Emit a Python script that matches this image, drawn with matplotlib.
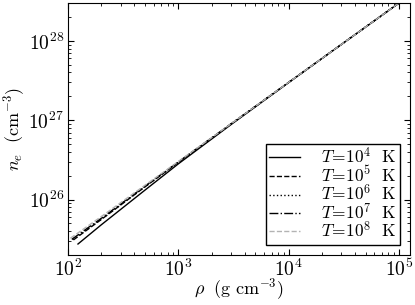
import numpy as np
import matplotlib
matplotlib.use("Agg")
import matplotlib.pyplot as plt
from matplotlib.ticker import FuncFormatter

plt.rcParams["mathtext.fontset"] = "cm"
plt.rcParams["font.family"] = "serif"
plt.rcParams["font.serif"] = ["DejaVu Serif"]
plt.rcParams["font.size"] = 11

# density (g cm^-3) and electron number density (cm^-3)
temps = ["4", "5", "6", "7", "8"]
rho = {
    "4": [123, 200, 500, 1.0e3, 3.0e3, 1.0e4, 3.0e4, 1.0e5],
    "5": [112, 200, 500, 1.0e3, 3.0e3, 1.0e4, 3.0e4, 1.0e5],
    "6": [110, 200, 500, 1.0e3, 3.0e3, 1.0e4, 3.0e4, 1.0e5],
    "7": [108, 200, 500, 1.0e3, 3.0e3, 1.0e4, 3.0e4, 1.0e5],
    "8": [105, 200, 500, 1.0e3, 3.0e3, 1.0e4, 3.0e4, 1.0e5],
}
n_e = {
    "4": [2.75e25, 4.8e25, 1.32e26, 2.82e26, 8.8e26, 2.98e27, 9.0e27, 3.0e28],
    "5": [3.10e25, 5.6e25, 1.45e26, 2.95e26, 8.95e26, 3.0e27, 9.0e27, 3.0e28],
    "6": [3.12e25, 5.65e25, 1.46e26, 2.96e26, 8.95e26, 3.0e27, 9.0e27, 3.0e28],
    "7": [3.15e25, 5.8e25, 1.48e26, 2.98e26, 9.0e26, 3.0e27, 9.0e27, 3.0e28],
    "8": [3.25e25, 6.1e25, 1.52e26, 3.02e26, 9.0e26, 3.0e27, 9.0e27, 3.0e28],
}
styles = {
    "4": dict(color="k", ls="-"),
    "5": dict(color="k", ls="--"),
    "6": dict(color="k", ls=":"),
    "7": dict(color="k", ls="-."),
    "8": dict(color="0.7", ls="--"),
}

fig = plt.figure(figsize=(4.15, 3.05), dpi=100)
ax = fig.add_axes([0.164, 0.164, 0.824, 0.826])

for t in temps:
    ax.loglog(rho[t], n_e[t], lw=1.0, label=r"$T\!=\!10^{%s}\ \ \mathrm{K}$" % t,
              **styles[t])

ax.set_xlim(100, 1.26e5)
ax.set_ylim(2.0e25, 3.0e28)
ax.set_xlabel(r"$\rho\ \ (\mathrm{g\ cm^{-3}})$", fontsize=13, labelpad=-3)
ax.set_ylabel(r"$n_e\ \ (\mathrm{cm^{-3}})$", fontsize=13, labelpad=1)

decade = FuncFormatter(lambda v, p: r"$10^{%d}$" % round(np.log10(v)))
ax.xaxis.set_major_formatter(decade)
ax.yaxis.set_major_formatter(decade)
ax.tick_params(which="both", direction="in", top=True, right=True, labelsize=14)
ax.tick_params(which="major", length=4, pad=3)
ax.tick_params(which="minor", length=2)

leg = ax.legend(loc="lower right", fancybox=False, edgecolor="k", framealpha=1,
                handlelength=1.8, handletextpad=1.2, borderpad=0.2,
                borderaxespad=0.6, labelspacing=-0.1, fontsize=12.5)
leg.get_frame().set_linewidth(1.0)

fig.savefig("out.png", dpi=100)
